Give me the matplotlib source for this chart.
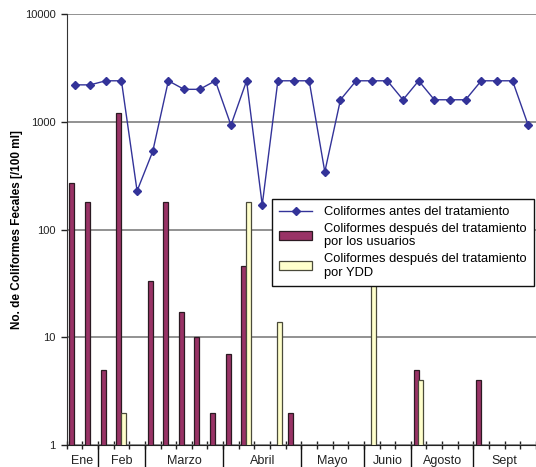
import numpy as np
import matplotlib
matplotlib.use('Agg')
import matplotlib.pyplot as plt

plt.rcParams['font.family'] = ['Liberation Sans', 'DejaVu Sans']

# datos (30 muestreos)
antes = [2200, 2200, 2400, 2400, 228, 530, 2400, 2000, 2000, 2400,
         930, 2400, 169, 2400, 2400, 2400, 343, 1600, 2400, 2400,
         2400, 1600, 2400, 1600, 1600, 1600, 2400, 2400, 2400, 930]
usuarios = [270, 180, 5, 1200, np.nan, 33, 180, 17, 10, 2,
            7, 46, np.nan, np.nan, 2, np.nan, np.nan, np.nan, np.nan, np.nan,
            np.nan, np.nan, 5, np.nan, np.nan, np.nan, 4, np.nan, np.nan, np.nan]
ydd = [np.nan, np.nan, np.nan, 2, np.nan, np.nan, np.nan, np.nan, np.nan, np.nan,
       np.nan, 180, np.nan, 14, np.nan, np.nan, np.nan, np.nan, np.nan, 60,
       np.nan, np.nan, 4, np.nan, np.nan, np.nan, np.nan, np.nan, np.nan, np.nan]
meses = ['Ene', 'Feb', 'Marzo', 'Abril', 'Mayo', 'Junio', 'Agosto', 'Sept']
n_por_mes = [2, 3, 5, 5, 4, 3, 4, 4]

x = np.arange(len(antes))

fig = plt.figure(figsize=(5.36, 4.67), dpi=100)
ax = fig.add_axes([0.1244, 0.0471, 0.8756, 0.9229])

ax.set_yscale('log')
ax.set_ylim(1, 10000)
ax.set_xlim(-0.5, len(antes) - 0.5)

# lineas de la cuadricula
ax.yaxis.grid(True, color='#7f7f7f', lw=1.2)
ax.set_axisbelow(True)

ax.plot(x, antes, color='#333399', marker='D', markersize=4.5, lw=1,
        label='Coliformes antes del tratamiento', zorder=3)
ax.bar(x - 0.17, usuarios, width=0.32, color='#993366', edgecolor='#2b1a22', lw=0.9,
       label='Coliformes después del tratamiento\npor los usuarios', zorder=2)
ax.bar(x + 0.13, ydd, width=0.32, color='#ffffcc', edgecolor='#4a4a3a', lw=0.9,
       label='Coliformes después del tratamiento\npor YDD', zorder=2)

# ejes
for s in ['top', 'right']:
    ax.spines[s].set_visible(False)
ax.spines['left'].set_color('#333333')
ax.spines['bottom'].set_color('#222222')
ax.set_yticks([1, 10, 100, 1000, 10000])
ax.set_yticklabels(['1', '10', '100', '1000', '10000'])
ax.yaxis.set_minor_locator(matplotlib.ticker.NullLocator())
ax.tick_params(axis='y', length=4, width=1, labelsize=8, colors='#222222', pad=4)
ax.set_xticks(np.arange(-0.5, len(antes), 1))
ax.set_xticklabels([])
ax.tick_params(axis='x', direction='inout', length=6, width=1, colors='#222222')

# meses y separadores
trans = ax.get_xaxis_transform()
inicio = 0
for mes, n in zip(meses, n_por_mes):
    centro = inicio + (n - 1) / 2
    ax.text(centro, -0.036, mes, transform=trans, ha='center', va='center',
            fontsize=9, color='#222222')
    fin = inicio + n - 0.5
    if fin < len(antes) - 0.5:
        ax.plot([fin, fin], [0, -0.06], transform=trans, color='#111111', lw=1,
                clip_on=False)
    inicio += n

ax.set_ylabel('No. de Coliformes Fecales [/100 ml]', fontsize=8.5, fontweight='bold',
              labelpad=1)

leg = ax.legend(loc='upper left', bbox_to_anchor=(0.437, 0.571), fancybox=False,
                framealpha=1, edgecolor='#111111', fontsize=9.3, handlelength=2.6,
                borderpad=0.55, labelspacing=0.35, handletextpad=0.9,
                borderaxespad=0)
leg.get_frame().set_linewidth(1)
leg.set_zorder(5)

fig.savefig('out.png', dpi=100)
